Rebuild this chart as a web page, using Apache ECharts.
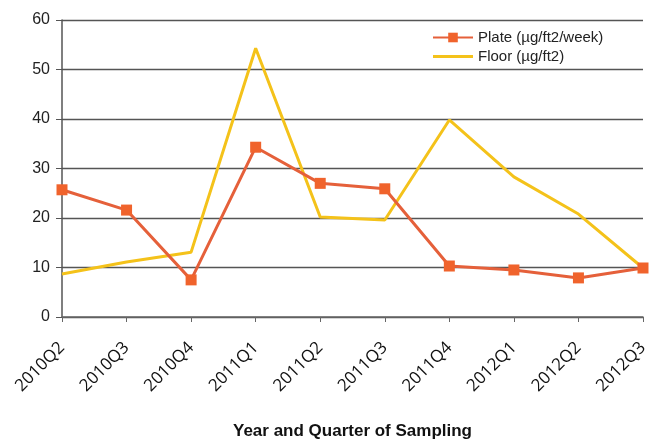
<!DOCTYPE html>
<html>
<head>
<meta charset="utf-8">
<script src="https://cdn.jsdelivr.net/npm/echarts@6/dist/echarts.min.js"></script>
<style>
  html, body { margin: 0; padding: 0; background: #ffffff; }
  #chart { width: 658px; height: 442px; }
</style>
</head>
<body>
<div id="chart"></div>
<script>
// Quarterly sampling results
const quarters = ['2010Q2', '2010Q3', '2010Q4', '2011Q1', '2011Q2', '2011Q3', '2011Q4', '2012Q1', '2012Q2', '2012Q3'];
const plateValues = [25.7, 21.6, 7.5, 34.3, 27.0, 25.9, 10.3, 9.5, 7.9, 9.9];
const floorValues = [8.7, 11.1, 13.1, 54.3, 20.2, 19.6, 39.8, 28.3, 20.8, 9.9];
const yTicks = [0, 10, 20, 30, 40, 50, 60];

const chart = echarts.init(document.getElementById('chart'), null, { renderer: 'canvas' });

chart.setOption({
  backgroundColor: '#ffffff',
  animation: false,
  grid: { left: 62, right: 15, top: 20, bottom: 125, outerBoundsMode: 'none', containLabel: false },
  legend: {
    orient: 'vertical',
    left: 427,
    top: 25,
    itemWidth: 40,
    itemHeight: 12,
    itemGap: 4,
    symbolKeepAspect: true,
    textStyle: { fontFamily: 'Liberation Sans, Arial, sans-serif', fontSize: 15, color: '#222' },
    data: [
      { name: 'Plate (µg/ft2/week)' },
      { name: 'Floor (µg/ft2)', icon: 'path://M0,0 L40,0 L40,3 L0,3 Z' }
    ]
  },
  xAxis: {
    type: 'category',
    data: quarters,
    boundaryGap: false,
    name: 'Year and Quarter of Sampling',
    nameLocation: 'middle',
    nameGap: 106,
    nameTextStyle: { fontFamily: 'Liberation Sans, Arial, sans-serif', fontSize: 17, fontWeight: 'bold', color: '#111' },
    axisLine: { lineStyle: { color: '#666', width: 1.5 } },
    axisTick: { show: true, alignWithLabel: true, length: 5, lineStyle: { color: '#666' } },
    axisLabel: {
      rotate: 45,
      interval: 0,
      margin: 28,
      fontFamily: 'Open Sans, sans-serif',
      fontSize: 17,
      color: '#111'
    },
    splitLine: { show: false }
  },
  yAxis: {
    type: 'value',
    min: yTicks[0],
    max: yTicks[yTicks.length - 1],
    interval: 10,
    axisLine: { show: true, lineStyle: { color: '#555', width: 1.5 } },
    axisTick: { show: true, length: 6, lineStyle: { color: '#555' } },
    axisLabel: {
      margin: 12,
      fontFamily: 'Liberation Sans, Arial, sans-serif',
      fontSize: 16,
      color: '#222'
    },
    splitLine: { show: true, lineStyle: { color: '#555', width: 1.3 } }
  },
  series: [
    {
      name: 'Plate (µg/ft2/week)',
      type: 'line',
      data: plateValues,
      symbol: 'rect',
      symbolSize: 11,
      itemStyle: { color: '#F0632C' },
      lineStyle: { color: '#E5603A', width: 3 },
      z: 3
    },
    {
      name: 'Floor (µg/ft2)',
      type: 'line',
      data: floorValues,
      symbol: 'none',
      itemStyle: { color: '#F4C21A' },
      lineStyle: { color: '#F4C21A', width: 3 },
      z: 2
    }
  ]
});
</script>
</body>
</html>
